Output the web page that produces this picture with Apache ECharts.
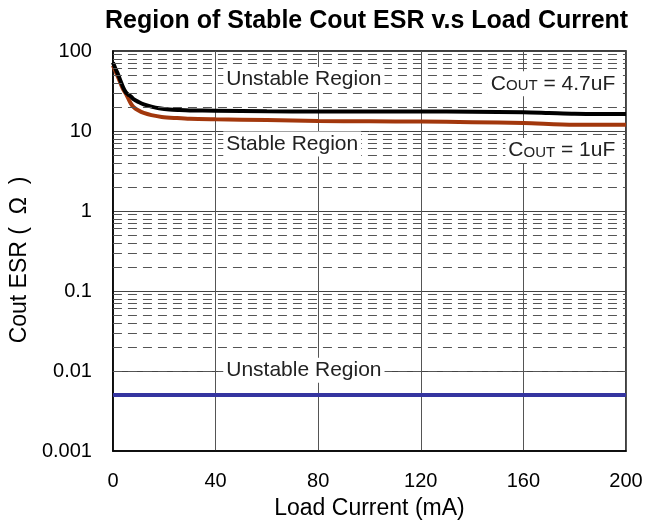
<!DOCTYPE html>
<html>
<head>
<meta charset="utf-8">
<script src="https://cdn.jsdelivr.net/npm/echarts@6/dist/echarts.min.js"></script>
<style>
html,body{margin:0;padding:0;background:#fff;}
#chart{width:656px;height:525px;}
</style>
</head>
<body>
<div id="chart"></div>
<script>
// ---- Data ----
const xTicks = [0, 40, 80, 120, 160, 200];
const yTickLabels = ['0.001', '0.01', '0.1', '1', '10', '100'];

const cout47X = [0, 1, 2, 3, 4, 5, 6, 7, 8, 10, 12, 15, 18, 22, 26, 30, 40, 60, 80, 100, 120, 140, 160, 170, 180, 190, 200];
const cout47Y = [72, 60, 51, 42, 35, 30.5, 28.5, 27, 25, 23, 21.5, 20.2, 19.3, 18.6, 18.3, 18.1, 17.9, 17.6, 17.5, 17.5, 17.5, 17.4, 17.2, 16.8, 16.4, 16.3, 16.3];

const cout1X = [0, 2, 4, 5, 6, 7, 8, 10, 12, 15, 19, 25, 30, 40, 60, 80, 100, 120, 140, 160, 180, 200];
const cout1Y = [66, 47, 33, 29.4, 25.4, 22, 20, 18, 16.8, 15.8, 15, 14.5, 14.2, 14.0, 13.7, 13.3, 13.2, 13.1, 12.9, 12.6, 12.0, 12.0];

const minEsrX = [0, 200];
const minEsrY = [0.005, 0.005];

// minor log gridlines (2..9 in each decade)
const minorGrid = [];
for (let e = -3; e < 2; e++) {
  for (let m = 2; m <= 9; m++) minorGrid.push(m * Math.pow(10, e));
}

const zip = (xs, ys) => xs.map((x, i) => [x, ys[i]]);

const FONT = 'Arial, "Liberation Sans", Helvetica, sans-serif';
const annStyle = {
  color: '#222', fontFamily: FONT, fontSize: 21,
  backgroundColor: '#fff', padding: [2, 3]
};
const coutRich = {
  c: {fontFamily: FONT, fontSize: 21, color: '#222'},
  s: {fontFamily: FONT, fontSize: 15, color: '#222', verticalAlign: 'bottom', padding: [0, 0, 1, 0]}
};

const chart = echarts.init(document.getElementById('chart'), null, {renderer: 'canvas'});
chart.setOption({
  animation: false,
  backgroundColor: '#fff',
  title: {
    text: 'Region of Stable Cout ESR v.s Load Current',
    left: 100, top: 4,
    textStyle: {fontFamily: FONT, fontWeight: 'bold', fontSize: 25, color: '#000'}
  },
  grid: {left: 111, right: 30, top: 51, bottom: 73, show: true, borderColor: '#000', borderWidth: 1.5, backgroundColor: 'transparent'},
  xAxis: {
    type: 'value', min: 0, max: 200, interval: 40,
    name: 'Load Current (mA)', nameLocation: 'middle', nameGap: 46,
    nameTextStyle: {fontFamily: FONT, fontSize: 23, color: '#000'},
    axisLine: {show: true, lineStyle: {color: '#000', width: 1.5}},
    axisTick: {show: false},
    axisLabel: {fontFamily: FONT, fontSize: 20, color: '#000', margin: 20},
    splitLine: {show: true, lineStyle: {color: '#555', width: 1}}
  },
  yAxis: {
    type: 'log', logBase: 10, min: 0.001, max: 100,
    name: 'Cout ESR (  \u03A9  )', nameLocation: 'middle', nameGap: 68,
    nameTextStyle: {fontFamily: FONT, fontSize: 23, color: '#000', padding: [0, 18, 0, 0]},
    axisLine: {show: true, lineStyle: {color: '#000', width: 1.5}},
    axisTick: {show: false},
    axisLabel: {
      fontFamily: FONT, fontSize: 20, color: '#000', margin: 21,
      formatter: v => yTickLabels[Math.round(Math.log10(v)) + 3]
    },
    splitLine: {show: true, lineStyle: {color: '#444', width: 1}}
  },
  series: [
    {
      type: 'line', data: [], silent: true, z: 1,
      markLine: {
        silent: true, symbol: 'none', label: {show: false},
        lineStyle: {color: '#555', width: 1, type: [9, 6]},
        data: minorGrid.map(v => ({yAxis: v}))
      }
    },
    {
      name: 'COUT = 1uF', type: 'line', data: zip(cout1X, cout1Y),
      showSymbol: false, smooth: 0.3, z: 3,
      lineStyle: {color: '#a2370c', width: 4}
    },
    {
      name: 'COUT = 4.7uF', type: 'line', data: zip(cout47X, cout47Y),
      showSymbol: false, smooth: 0.3, z: 4,
      lineStyle: {color: '#000', width: 4}
    },
    {
      name: 'min ESR', type: 'line', data: zip(minEsrX, minEsrY),
      showSymbol: false, z: 3,
      lineStyle: {color: '#3535a0', width: 4}
    },
    {
      type: 'scatter', data: [], z: 10, silent: true,
      markPoint: {
        symbol: 'rect', symbolSize: 0, silent: true,
        data: [
          {coord: [43, 44], label: Object.assign({show: true, position: 'inside', align: 'left', formatter: 'Unstable Region'}, annStyle)},
          {coord: [43, 6.9], label: Object.assign({show: true, position: 'inside', align: 'left', formatter: 'Stable Region'}, annStyle)},
          {coord: [43, 0.0102], label: Object.assign({show: true, position: 'inside', align: 'left', formatter: 'Unstable Region'}, annStyle)},
          {coord: [197, 39], label: Object.assign({show: true, position: 'inside', align: 'right', formatter: '{c|C}{s|OUT}{c| = 4.7uF}', rich: coutRich}, annStyle)},
          {coord: [197, 5.7], label: Object.assign({show: true, position: 'inside', align: 'right', formatter: '{c|C}{s|OUT}{c| = 1uF}', rich: coutRich}, annStyle)}
        ]
      }
    }
  ]
});
</script>
</body>
</html>
